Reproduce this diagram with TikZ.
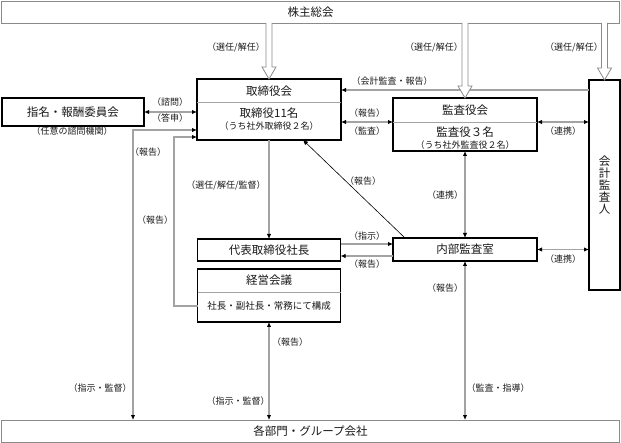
\documentclass[tikz,border=0pt]{standalone}
\usepackage{fontspec}
\newfontfamily\jp{Noto Sans CJK JP}
\usetikzlibrary{arrows.meta,calc}
\definecolor{lg}{HTML}{A3A3A3}
\definecolor{og}{HTML}{8A8A8A}
\newcommand\hollowarrow[2]{%
  \draw[og, line width=0.8pt, fill=white] ($(#1)+(-3,0)$) -- ($(#2)+(-3,-12)$) -- ($(#2)+(-7,-12)$) -- (#2) -- ($(#2)+(7,-12)$) -- ($(#2)+(3,-12)$) -- ($(#1)+(3,0)$);}
\begin{document}
\begin{tikzpicture}[x=1pt,y=-1pt,
  every node/.style={font=\jp, inner sep=0pt, outer sep=0pt, text=black!90},
  box/.style={draw=black, line width=1.5pt, fill=white},
  wide/.style={draw=og, line width=0.8pt, fill=white},
  lbl/.style={font=\jp\fontsize{9}{10}\selectfont},
  main/.style={font=\jp\fontsize{11.5}{13}\selectfont},
  small/.style={font=\jp\fontsize{9}{10}\selectfont},
  conn/.style={draw=lg, line width=1.3pt},
  divl/.style={draw=lg, line width=0.8pt},
  >={Latex[length=5pt,width=4.5pt,color=black]}
]
\useasboundingbox (0,0) rectangle (621,443);
% boxes
\node[wide, minimum width=618pt, minimum height=22pt] (top) at (310.5,12) {};
\node[main] (topt) at (310.5,12) {株主総会};
\node[wide, minimum width=618pt, minimum height=22pt] (bot) at (310.5,431) {};
\node[main] (bott) at (310.5,431) {各部門・グループ会社};

\node[box, minimum width=142pt, minimum height=28pt] (nc) at (73,112) {};
\node[main] (nct) at (73,112) {指名・報酬委員会};
\node[lbl] (ncl) at (72,131) {（任意の諮問機関）};

\node[box, minimum width=144pt, minimum height=61pt] (tb) at (269,109.5) {};
\draw[divl] (197,102) -- (341,102);
\node[main] (tbt) at (269,91) {取締役会};
\node[main] (tb2) at (269,113) {取締役11名};
\node[small] (tb3) at (269,126) {（うち社外取締役２名）};

\node[box, minimum width=144pt, minimum height=53pt] (ka) at (465,124.5) {};
\draw[divl] (393,122) -- (537,122);
\node[main] (kat) at (465,110) {監査役会};
\node[main] (ka2) at (465,132) {監査役３名};
\node[small] (ka3) at (465,145) {（うち社外監査役２名）};

\node[box, minimum width=31pt, minimum height=210pt] (ca) at (604.5,185) {};
\node[main, align=center, font=\jp\fontsize{11.5}{11.8}\selectfont] (cat) at (604.5,185) {会\\計\\監\\査\\人};

\node[box, minimum width=143pt, minimum height=22pt] (pr) at (269,250) {};
\node[main] (prt) at (269,250) {代表取締役社長};

\node[box, minimum width=143pt, minimum height=53pt] (em) at (269,295.5) {};
\draw[divl] (197.5,292) -- (340.5,292);
\node[main] (emt) at (269,280) {経営会議};
\node[small, font=\jp\fontsize{9.5}{10}\selectfont] (em2) at (269,306) {社長・副社長・常務にて構成};

\node[box, minimum width=144pt, minimum height=23pt] (ia) at (465,249.5) {};
\node[main] (iat) at (465,249.5) {内部監査室};

% connectors
\draw[conn,<-] (tb.east |- 0,90) -- (ca.west |- 0,90);
\draw[conn,<->] (tb.east |- 0,122) -- (ka.west |- 0,122);
\draw[conn,<->] (ka.east |- 0,122) -- (ca.west |- 0,122);
\draw[conn,<->] (nc.east) -- (tb.west |- nc.east);
\draw[conn,<->] (tb.west |- 0,130) -| (bot.north -| 133,0);
\draw[conn,->] (em.west |- 0,306) -- (174,306) -- (174,137) -- (tb.west |- 0,137);
\draw[conn,->] (tb.south) -- (pr.north);
\draw[conn,<->] (em.south) -- (em.south |- bot.north);
\draw[conn,->] (pr.east |- 0,244) -- (ia.west |- 0,244);
\draw[conn,<-] (pr.east |- 0,256) -- (ia.west |- 0,256);
\draw[black, line width=0.6pt, ->] ($(ia.north west)+(12,0)$) -- ($(tb.south east)+(-38,0)$);
\draw[conn,<->] (ka.south) -- (ia.north);
\draw[conn,<->] (ia.east) -- (ca.west |- ia.east);
\draw[conn,<->] (ia.south) -- (ia.south |- bot.north);

% hollow arrows from shareholders
\coordinate (h1) at (top.south -| tb.north);
\coordinate (h2) at (top.south -| ka.north);
\coordinate (h3) at (top.south -| ca.north);
\hollowarrow{h1}{tb.north}
\hollowarrow{h2}{ka.north}
\hollowarrow{h3}{ca.north}

% labels
\node[lbl] (l1) at (236,47) {（選任/解任）};
\node[lbl] (l2) at (434,47) {（選任/解任）};
\node[lbl] (l3) at (574,47) {（選任/解任）};
\node[lbl] (l4) at (392,81) {（会計監査・報告）};
\node[lbl] (l5) at (367,113) {（報告）};
\node[lbl] (l6) at (367,131) {（監査）};
\node[lbl] (l7) at (563,131) {（連携）};
\node[lbl] (l8) at (170,102) {（諮問）};
\node[lbl] (l9) at (170,118) {（答申）};
\node[lbl] (l10) at (148,152) {（報告）};
\node[lbl] (l11) at (226,185) {（選任/解任/監督）};
\node[lbl] (l12) at (155,220) {（報告）};
\node[lbl] (l13) at (363,181) {（報告）};
\node[lbl] (l14) at (445,195) {（連携）};
\node[lbl] (l15) at (367,236) {（指示）};
\node[lbl] (l16) at (367,264) {（報告）};
\node[lbl] (l17) at (563,259) {（連携）};
\node[lbl] (l18) at (445,288) {（報告）};
\node[lbl] (l19) at (290,342) {（報告）};
\node[lbl] (l20) at (100,388) {（指示・監督）};
\node[lbl] (l21) at (238,401) {（指示・監督）};
\node[lbl] (l22) at (498,388) {（監査・指導）};
\end{tikzpicture}
\end{document}
